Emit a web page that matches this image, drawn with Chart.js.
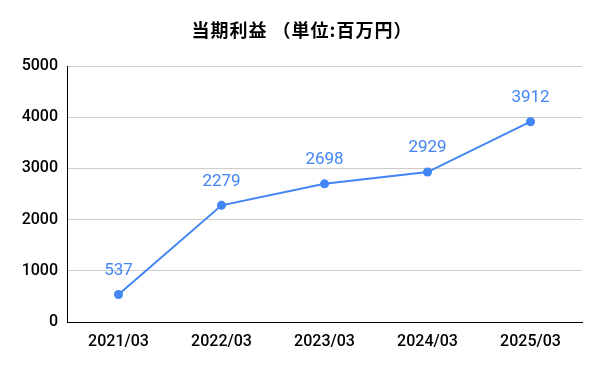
<!DOCTYPE html>
<html>
<head>
<meta charset="utf-8">
<script src="https://cdn.jsdelivr.net/npm/chart.js@4"></script>
<style>
  html, body { margin: 0; padding: 0; background: #fff; }
  #wrap { width: 600px; height: 371px; }
</style>
</head>
<body>
<div id="wrap"><canvas id="profit-chart"></canvas></div>
<script>
const periods = ["2021/03", "2022/03", "2023/03", "2024/03", "2025/03"];
const profit = [537, 2279, 2698, 2929, 3912];
const yTicks = [0, 1000, 2000, 3000, 4000, 5000];
const chartTitle = "当期利益 （単位:百万円）";

const lineBlue = "#4285F4";

// draw each value above its point
const valueLabels = {
  id: "valueLabels",
  afterDatasetsDraw(chart) {
    const ctx = chart.ctx;
    const meta = chart.getDatasetMeta(0);
    ctx.save();
    ctx.font = "17px Roboto";
    ctx.fillStyle = lineBlue;
    ctx.textAlign = "center";
    ctx.textBaseline = "middle";
    meta.data.forEach((pt, i) => {
      ctx.fillText(String(profit[i]), pt.x, pt.y - 24);
    });
    ctx.restore();
  }
};

// title centred on the whole canvas, not the padded box
const titleText = {
  id: "titleText",
  afterDraw(chart) {
    const ctx = chart.ctx;
    ctx.save();
    ctx.font = "bold 18px 'Noto Sans CJK JP'";
    ctx.letterSpacing = "1px";
    ctx.fillStyle = "#000";
    ctx.textAlign = "center";
    ctx.textBaseline = "middle";
    ctx.fillText(chartTitle, 302, 30);
    ctx.restore();
  }
};

new Chart(document.getElementById("profit-chart"), {
  type: "line",
  data: {
    labels: periods,
    datasets: [{
      data: profit,
      borderColor: lineBlue,
      backgroundColor: lineBlue,
      borderWidth: 2,
      pointRadius: 4.5,
      pointBackgroundColor: lineBlue,
      pointBorderWidth: 0,
      tension: 0
    }]
  },
  options: {
    responsive: true,
    maintainAspectRatio: false,
    animation: false,
    layout: { padding: { left: 0, right: 18, top: 66, bottom: 0 } },
    plugins: {
      legend: { display: false },
      tooltip: { enabled: false },
      title: { display: false }
    },
    scales: {
      x: {
        offset: true,
        grid: { display: false, drawTicks: false },
        border: { display: true, color: "#000", width: 1 },
        ticks: { color: "#000", padding: 10, font: { family: "Roboto", size: 16, weight: "500" } },
        afterFit: s => { s.height = 49; }
      },
      y: {
        min: 0,
        max: 5000,
        afterBuildTicks: s => { s.ticks = yTicks.map(v => ({ value: v })); },
        grid: { color: "#cccccc", drawTicks: false },
        border: { display: true, color: "#000", width: 1 },
        ticks: {
          color: "#000",
          padding: 9,
          font: { family: "Roboto", size: 16, weight: "500" },
          callback: v => String(v)
        },
        afterFit: s => { s.width = 67; }
      }
    }
  },
  plugins: [valueLabels, titleText]
});
</script>
</body>
</html>
